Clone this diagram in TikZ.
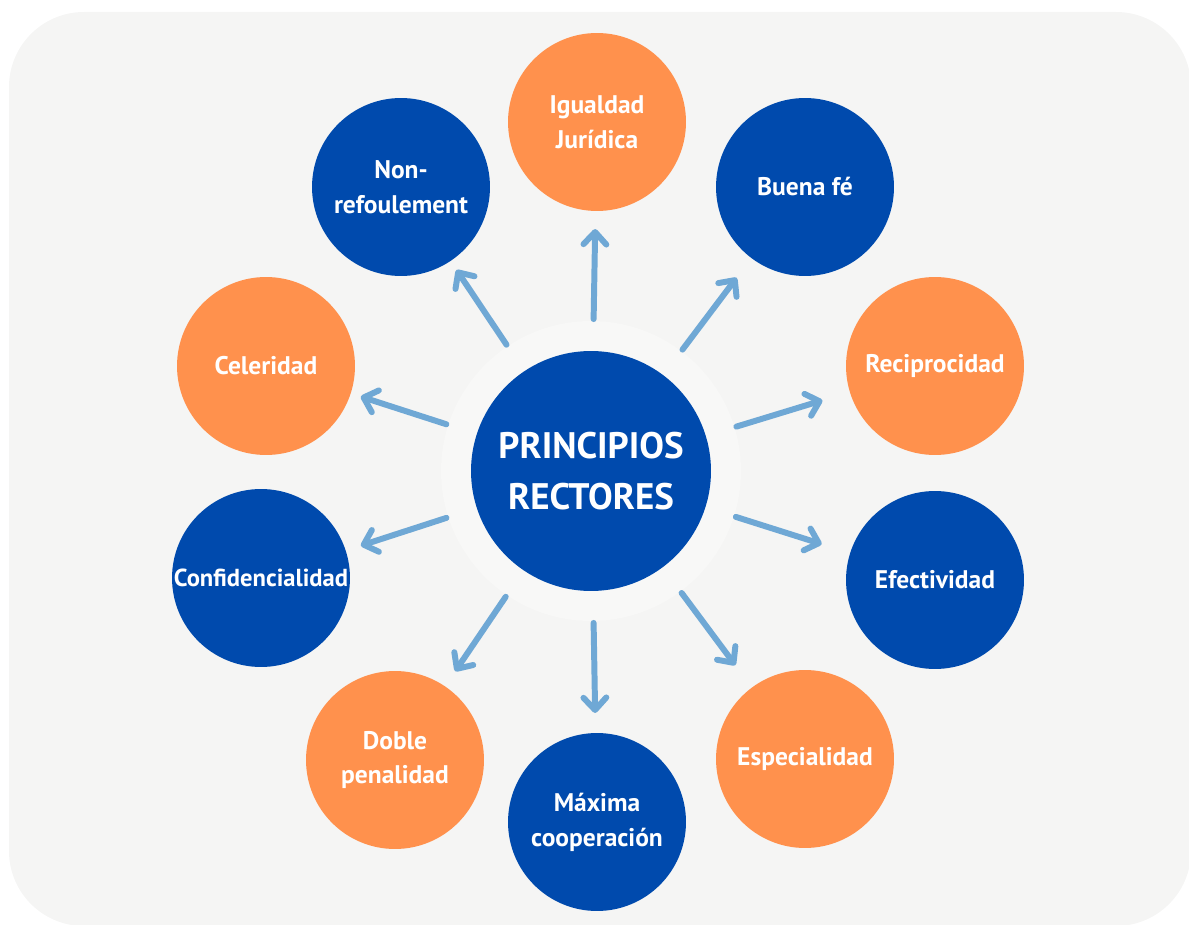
\documentclass[tikz,border=0pt]{standalone}
\usepackage{fontspec}
\setmainfont{PT Sans}
\usetikzlibrary{arrows.meta,calc}

\definecolor{azulPrincipal}{HTML}{004AAD}
\definecolor{naranjaSuave}{HTML}{FF914D}
\definecolor{celesteFlecha}{HTML}{6FA8D5}
\definecolor{fondoGris}{HTML}{F5F5F4}

\tikzset{
  principio/.style={circle, minimum size=3.56cm, inner sep=0pt, text=white,
                    font=\bfseries\fontsize{14.5}{19.8}\selectfont, align=center},
  azul/.style={principio, fill=azulPrincipal},
  naranja/.style={principio, fill=naranjaSuave},
  flecha/.style={draw=celesteFlecha, line width=3.4pt, line cap=round,
                 -{Straight Barb[round, length=7pt, width=13pt]}}
}

\begin{document}
\begin{tikzpicture}[x=0.02cm, y=-0.02cm]
    \useasboundingbox (0,0) rectangle (1189,925);
    \fill[fondoGris, rounded corners=1.5cm] (9,12) rectangle (1191,926);

    \node[circle, fill=white!25!fondoGris, minimum size=6cm] (halo) at (591,471) {};
    \node[azul, minimum size=4.8cm, font=\bfseries\fontsize{21}{29}\selectfont]
        (hub) at (591,471) {PRINCIPIOS\\RECTORES};

    \node[naranja] (igualdad) at (597,122) {Igualdad\\Jurídica};
    \node[azul] (buena) at (805,187) {Buena fé};
    \node[naranja] (reciprocidad) at (935,366) {Reciprocidad};
    \node[azul] (efectividad) at (935,580) {Efectividad};
    \node[naranja] (especialidad) at (805,759) {Especialidad};
    \node[azul] (maxima) at (597,822) {Máxima\\cooperación};
    \node[naranja] (doble) at (395,760) {Doble\\penalidad};
    \node[azul, font=\bfseries\fontsize{14}{19.8}\selectfont]
        (confidencialidad) at (261,578) {Confidencialidad};
    \node[naranja] (celeridad) at (266,366) {Celeridad};
    \node[azul] (nonref) at (401,187) {Non-\\refoulement};

    \foreach \n in {igualdad,buena,reciprocidad,efectividad,especialidad,
                    maxima,doble,confidencialidad,celeridad,nonref}
        \draw[flecha] ($(hub)!3.04cm!(\n)$) -- ($(hub)!4.84cm!(\n)$);
\end{tikzpicture}
\end{document}
